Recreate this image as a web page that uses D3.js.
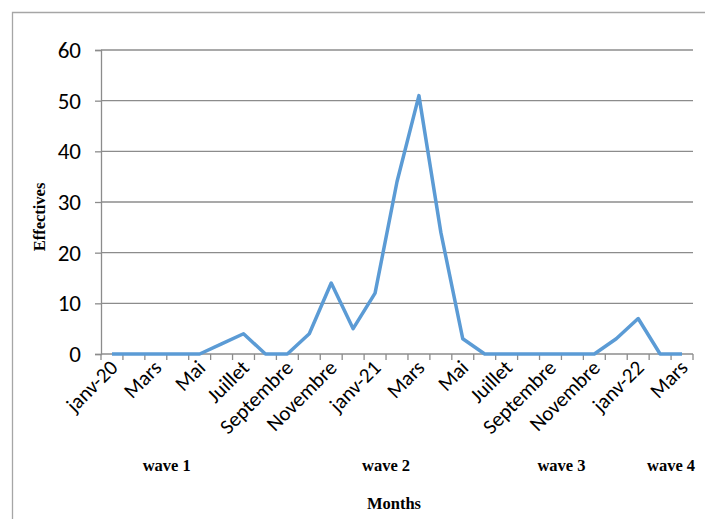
<!DOCTYPE html>
<html>
<head>
<meta charset="utf-8">
<script src="https://cdn.jsdelivr.net/npm/d3@7"></script>
<style>
  html, body { margin: 0; padding: 0; background: #fff; }
  svg { display: block; }
</style>
</head>
<body>
<svg id="chart" width="705" height="519"></svg>
<script>
// Monthly counts, January 2020 to March 2022
const months = [
  "janv-20", "févr-20", "Mars", "avr-20", "Mai", "juin-20", "Juillet", "août-20",
  "Septembre", "oct-20", "Novembre", "déc-20",
  "janv-21", "févr-21", "Mars ", "avr-21", "Mai ", "juin-21", "Juillet ", "août-21",
  "Septembre ", "oct-21", "Novembre ", "déc-21",
  "janv-22", "févr-22", "Mars  "
];
const effectives = [0, 0, 0, 0, 0, 2, 4, 0, 0, 4, 14, 5, 12, 34, 51, 24, 3, 0, 0, 0, 0, 0, 0, 3, 7, 0, 0];
const yTicks = [0, 10, 20, 30, 40, 50, 60];
// Each wave label sits at the start of the month it is attached to
const waveLabels = ["wave 1", "wave 2", "wave 3", "wave 4"];
const waveMonths = ["avr-20", "févr-21", "oct-21", "Mars  "];

const svg = d3.select("#chart");
const plotLeft = 101, plotRight = 693, plotTop = 50, plotBottom = 354;
const tickFont = "Carlito, Calibri, 'Liberation Sans', sans-serif";
const titleFont = "'Liberation Serif', 'Times New Roman', serif";

// Outer frame
svg.append("path")
  .attr("d", "M12.5,519 V12.5 H705")
  .attr("fill", "none")
  .attr("stroke", "#a6a6a6")
  .attr("stroke-width", 1.3);

const x = d3.scaleBand().domain(months).range([plotLeft, plotRight]).padding(0);
const y = d3.scaleLinear().domain([0, 60]).range([plotBottom, plotTop]);

// Horizontal gridlines
svg.append("g")
  .selectAll("line")
  .data(yTicks.filter(d => d > 0))
  .join("line")
  .attr("x1", plotLeft).attr("x2", plotRight)
  .attr("y1", d => y(d)).attr("y2", d => y(d))
  .attr("stroke", "#8c8c8c")
  .attr("stroke-width", 1.3);

// Y axis
const yAxis = svg.append("g")
  .attr("transform", `translate(${plotLeft},0)`)
  .call(d3.axisLeft(y).tickValues(yTicks).tickSize(6).tickPadding(14).tickFormat(d3.format("d")));
yAxis.select(".domain").attr("stroke", "#8c8c8c").attr("stroke-width", 1.3);
yAxis.selectAll(".tick line").attr("stroke", "#8c8c8c").attr("stroke-width", 1.3);
yAxis.selectAll(".tick text")
  .attr("font-family", tickFont)
  .attr("font-size", 23)
  .attr("fill", "#000");

// X axis: tick marks at band boundaries
const boundaries = months.map(m => x(m)).concat([plotRight]);
const xAxisG = svg.append("g");
xAxisG.append("line")
  .attr("x1", plotLeft).attr("x2", plotRight)
  .attr("y1", plotBottom).attr("y2", plotBottom)
  .attr("stroke", "#8c8c8c").attr("stroke-width", 1.3);
xAxisG.selectAll("line.tk")
  .data(boundaries)
  .join("line")
  .attr("class", "tk")
  .attr("x1", d => d).attr("x2", d => d)
  .attr("y1", plotBottom).attr("y2", plotBottom + 6)
  .attr("stroke", "#8c8c8c").attr("stroke-width", 1.3);

// Labels on every other month
xAxisG.selectAll("text")
  .data(months.filter((m, i) => i % 2 === 0))
  .join("text")
  .attr("transform", d => `translate(${x(d) + x.bandwidth() / 2 + 7},${plotBottom + 15}) rotate(-45)`)
  .attr("text-anchor", "end")
  .attr("font-family", tickFont)
  .attr("font-size", 21)
  .attr("fill", "#000")
  .text(d => d.trim());

// Data line
const line = d3.line()
  .x((d, i) => x(months[i]) + x.bandwidth() / 2)
  .y(d => y(d));
svg.append("path")
  .datum(effectives)
  .attr("d", line)
  .attr("fill", "none")
  .attr("stroke", "#5b9bd5")
  .attr("stroke-width", 3.5)
  .attr("stroke-linejoin", "round");

// Axis titles
svg.append("text")
  .attr("transform", `translate(45,${(plotTop + plotBottom) / 2 + 15}) rotate(-90)`)
  .attr("text-anchor", "middle")
  .attr("font-family", titleFont)
  .attr("font-weight", "bold")
  .attr("font-size", 16.5)
  .text("Effectives");

svg.append("text")
  .attr("x", 394).attr("y", 509)
  .attr("text-anchor", "middle")
  .attr("font-family", titleFont)
  .attr("font-weight", "bold")
  .attr("font-size", 16.5)
  .text("Months");

// Wave labels
svg.append("g")
  .selectAll("text")
  .data(waveLabels)
  .join("text")
  .attr("x", (d, i) => x(waveMonths[i]))
  .attr("y", 471)
  .attr("text-anchor", "middle")
  .attr("font-family", titleFont)
  .attr("font-weight", "bold")
  .attr("font-size", 16.5)
  .text(d => d);
</script>
</body>
</html>
